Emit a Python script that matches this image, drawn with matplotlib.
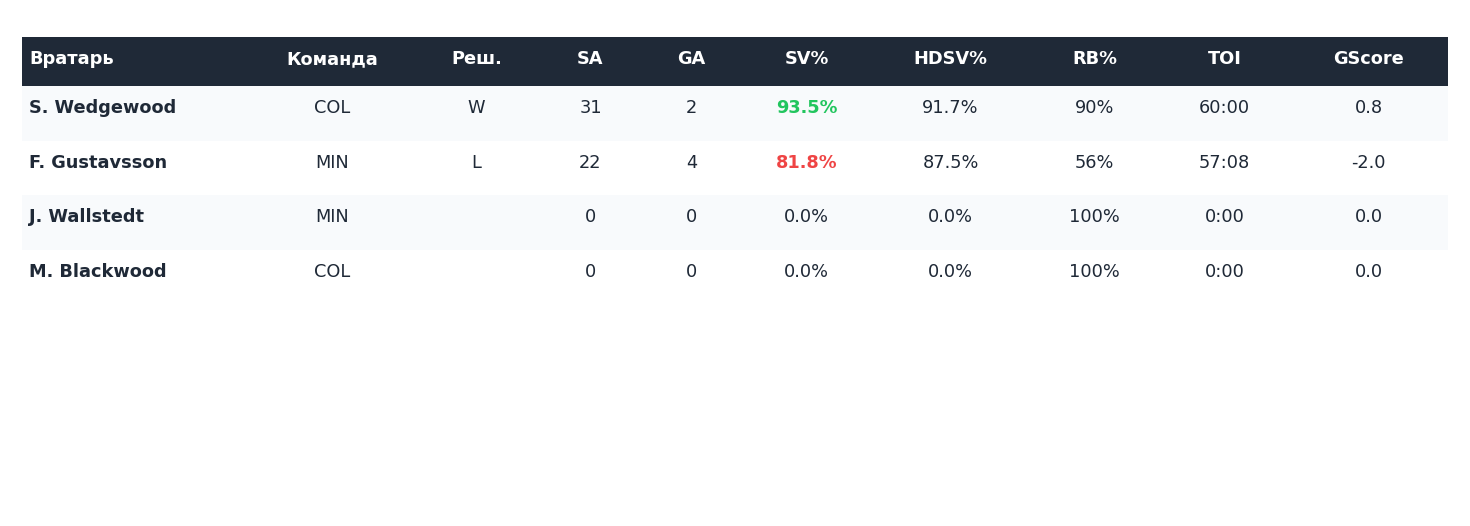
import matplotlib.pyplot as plt
from matplotlib.patches import Rectangle

# table content
headers = ['Вратарь', 'Команда', 'Реш.', 'SA', 'GA', 'SV%', 'HDSV%', 'RB%', 'TOI', 'GScore']
goalies = ['S. Wedgewood', 'F. Gustavsson', 'J. Wallstedt', 'M. Blackwood']
teams = ['COL', 'MIN', 'MIN', 'COL']
decisions = ['W', 'L', '', '']
shots = [31, 22, 0, 0]
goals = [2, 4, 0, 0]
sv_pct = [93.5, 81.8, 0.0, 0.0]
hdsv_pct = [91.7, 87.5, 0.0, 0.0]
rb_pct = [90, 56, 100, 100]
toi = ['60:00', '57:08', '0:00', '0:00']
gscore = [0.8, -2.0, 0.0, 0.0]

DARK = '#1f2937'
LIGHT = '#f8fafc'
GREEN = '#22c55e'
RED = '#ef4444'

W, H = 1470, 526
fig = plt.figure(figsize=(W / 100, H / 100), dpi=100)
ax = fig.add_axes([0, 0, 1, 1])
ax.set_xlim(0, W)
ax.set_ylim(H, 0)
ax.axis('off')

# layout
left, right = 22, 1448
head_top, head_h = 37, 49
row_h = 54.6
col_x = [29, 332.5, 476.5, 590.5, 691.5, 806.5, 950.5, 1094.5, 1224.5, 1368.5]
fs = 12.8

ax.add_patch(Rectangle((left, head_top), right - left, head_h, color=DARK, lw=0))
for j, h in enumerate(headers):
    ax.text(col_x[j], head_top + 22.5, h, color='white', fontsize=fs, fontweight='bold',
            ha='left' if j == 0 else 'center', va='center')

for i in range(len(goalies)):
    top = head_top + head_h + i * row_h
    if i % 2 == 0:
        ax.add_patch(Rectangle((left, top), right - left, row_h, color=LIGHT, lw=0))
    cells = [goalies[i], teams[i], decisions[i], str(shots[i]), str(goals[i]),
             f'{sv_pct[i]:.1f}%', f'{hdsv_pct[i]:.1f}%', f'{rb_pct[i]}%', toi[i],
             f'{gscore[i]:.1f}']
    y = top + 22.3
    for j, c in enumerate(cells):
        color, weight = DARK, 'normal'
        if j == 0:
            weight = 'bold'
        if j == 5 and shots[i] > 0:
            weight = 'bold'
            color = GREEN if sv_pct[i] >= 90 else RED
        ax.text(col_x[j], y, c, color=color, fontsize=fs, fontweight=weight,
                ha='left' if j == 0 else 'center', va='center')

fig.savefig('out.png', dpi=100)
